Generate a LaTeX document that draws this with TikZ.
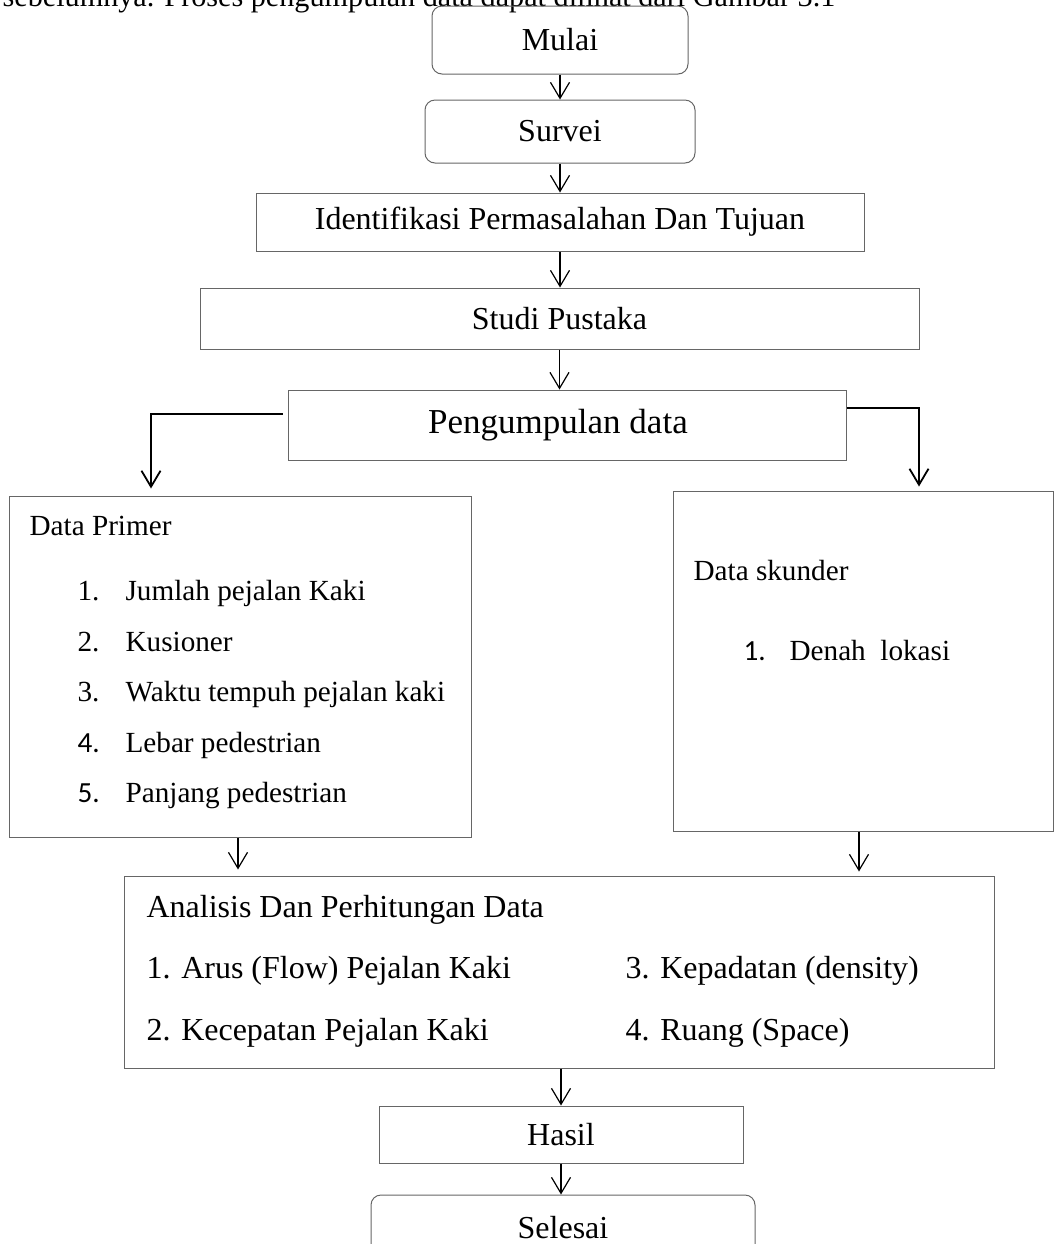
\documentclass[tikz,border=0pt]{standalone}
\usepackage{fontspec}
\setmainfont{Liberation Serif}
\newfontfamily\calfont{Carlito}
\usetikzlibrary{arrows.meta}

\begin{document}
\begin{tikzpicture}[x=0.5pt, y=-0.5pt, font=\fontsize{16}{19}\selectfont, line width=0.6pt,
  >={Straight Barb[length=8pt, width=9.5pt]},
  main/.style = {draw=black!60, line width=0.5pt, inner sep=0pt},
  term/.style = {main, rounded corners=5pt},
  txt/.style = {anchor=base west, inner sep=0pt},
  item/.style = {txt, font=\fontsize{14.6}{17}\selectfont}]
\useasboundingbox (0,0) rectangle (1054,1244);
\node[txt, font=\fontsize{15.1}{18}\selectfont] (0) at (2,6) {sebelumnya. Proses pengumpulan data dapat dilihat dari Gambar 3.1};
\node[term, minimum width=128pt, minimum height=34pt] (1) at (560,40) {Mulai};
\node[term, minimum width=135pt, minimum height=31.5pt] (2) at (560,131.5) {Survei};
\node[main, minimum width=304pt, minimum height=29pt] (3) at (560,222) {Identifikasi Permasalahan Dan Tujuan};
\node[main, minimum width=359.5pt, minimum height=30.5pt] (4) at (559.5,318.5) {Studi Pustaka};
\node[main, minimum width=279pt, minimum height=35pt, font=\fontsize{17.5}{20}\selectfont] (5) at (567,425) {Pengumpulan data\kern9pt};
\node[main, minimum width=231pt, minimum height=170.5pt] (6) at (240,666.5) {};
\node[main, minimum width=190pt, minimum height=170pt] (7) at (863,661) {};
\node[main, minimum width=435pt, minimum height=96pt] (8) at (559,972) {};
\node[main, minimum width=182pt, minimum height=28.5pt] (9) at (561,1134.5) {Hasil};
\node[term, minimum width=192pt, minimum height=33pt] (10) at (563,1228) {Selesai};
\node[item] (6a) at (29,535) {Data Primer};
\node[item] (6b) at (77,600) {1.};
\node[item] (6c) at (125,600) {Jumlah pejalan Kaki};
\node[item] (6d) at (77,651) {2.};
\node[item] (6e) at (125,651) {Kusioner};
\node[item] (6f) at (77,701) {3.};
\node[item] (6g) at (125,701) {Waktu tempuh pejalan kaki};
\node[item] (6h) at (77,752) {\calfont 4.};
\node[item] (6i) at (125,752) {Lebar pedestrian};
\node[item] (6j) at (77,802) {\calfont 5.};
\node[item] (6k) at (125,802) {Panjang pedestrian};
\node[item] (7a) at (693,580) {Data skunder};
\node[item] (7b) at (743,660) {\calfont 1.};
\node[item] (7c) at (789,660) {Denah\ \ lokasi};
\node[txt] (8a) at (146,917) {Analisis Dan Perhitungan Data};
\node[txt] (8b) at (146,978) {1. Arus (Flow) Pejalan Kaki};
\node[txt] (8c) at (146,1040) {2. Kecepatan Pejalan Kaki};
\node[txt] (8d) at (625,978) {3. Kepadatan (density)};
\node[txt] (8e) at (625,1040) {4. Ruang (Space)};
\draw[->] (1) -- (2);
\draw[->] (2) -- (3);
\draw[->] (3) -- (3 |- 4.north);
\draw[->] (4.south) -- (4.south |- 5.north);
\draw[->, line width=0.9pt] ([xshift=-2.5pt, yshift=5.5pt]5.west) -| ([yshift=3.5pt]6.north -| 151,0);
\draw[->, line width=0.9pt] ([yshift=8.5pt]5.east) -| ([xshift=28pt, yshift=2pt]7.north);
\draw[->] ([xshift=-1pt]6.south) -- ([xshift=-1pt, yshift=3pt]6.south |- 8.north);
\draw[->] ([xshift=-2pt]7.south) -- ([xshift=-2pt, yshift=2pt]7.south |- 8.north);
\draw[->] (9.north |- 8.south) -- (9);
\draw[->] (9) -- (9 |- 10.north);
\end{tikzpicture}
\end{document}
